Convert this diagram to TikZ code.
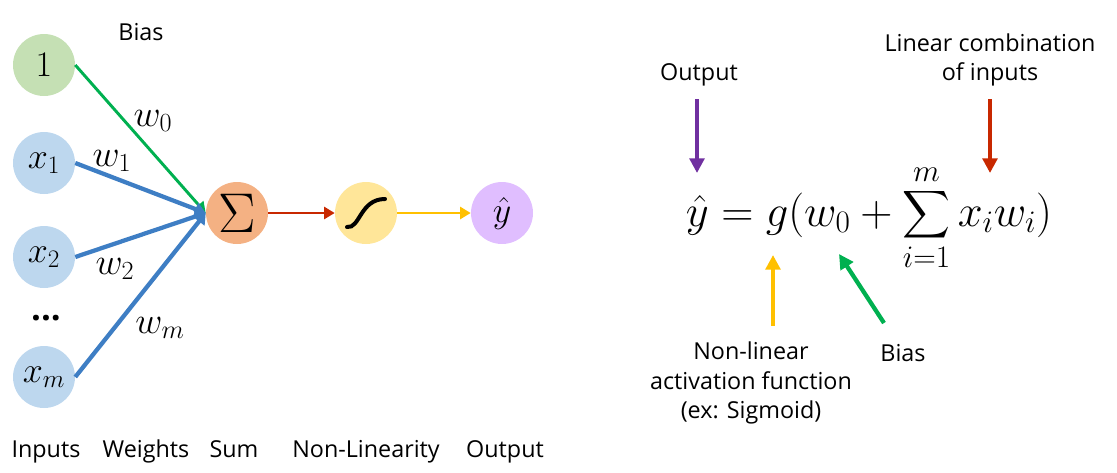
\RequirePackage{fix-cm}
\documentclass[tikz,border=0pt]{standalone}
\usepackage{amsmath}
\usepackage{fontspec}
\setmainfont{Open Sans}
\usetikzlibrary{arrows.meta}

\definecolor{biasgreen}{RGB}{197,224,180}
\definecolor{inblue}{RGB}{189,215,238}
\definecolor{sumorange}{RGB}{244,177,131}
\definecolor{sigyellow}{RGB}{255,230,153}
\definecolor{outpurple}{RGB}{224,190,255}
\definecolor{arrgreen}{RGB}{0,176,80}
\definecolor{arrblue}{RGB}{62,126,196}
\definecolor{arrred}{RGB}{200,40,0}
\definecolor{arryellow}{RGB}{255,192,0}
\definecolor{arrpurple}{RGB}{112,48,160}

\tikzset{
  neuron/.style={circle,minimum size=46.5pt,inner sep=0pt,font=\fontsize{27}{29}\selectfont},
  lbl/.style={font=\fontsize{17.5}{22}\selectfont,align=center},
  wlbl/.style={font=\fontsize{28}{30}\selectfont},
  thinarr/.style={line width=2.2pt,-{Triangle[width=9pt,length=8pt]}},
  thickarr/.style={line width=3.2pt,-{Triangle[width=10pt,length=8pt]}},
  fatarr/.style={line width=3.2pt,-{Triangle[width=11pt,length=11pt]}}
}

\begin{document}
\begin{tikzpicture}[x=0.75pt,y=0.75pt,yscale=-1,xscale=1]
\path[use as bounding box] (0,0) rectangle (1117,472);

%Shape: Circles (inputs)
\node[neuron,fill=biasgreen] (one) at (44,65) {$1$};
\node[neuron,fill=inblue] (x1) at (44,163) {$x_1$};
\node[neuron,fill=inblue] (x2) at (44,257) {$x_2$};
\node[font=\fontsize{26}{28}\selectfont\bfseries] (dots) at (46,318) {...};
\node[neuron,fill=inblue] (xm) at (44,377) {$x_m$};

%Shape: Circles (sum, activation, output)
\node[neuron,fill=sumorange,font=\fontsize{42}{44}\selectfont] (sum) at (237,213) {$\Sigma$};
\node[neuron,fill=sigyellow] (sig) at (366,213) {};
\node[neuron,fill=outpurple] (yhat) at (502,213) {$\hat{y}$};

%Sigmoid curve
\draw[line width=3pt,line cap=round,shift={(sig.center)}] (-19,14) .. controls (-6,16) and (-6,-14) .. (19,-14);

%Straight Lines
\draw[thinarr,arrgreen] (one.east) -- (sum.west);
\draw[thickarr,arrblue] (x1.east) -- (sum.west);
\draw[thickarr,arrblue] (x2.east) -- (sum.west);
\draw[thickarr,arrblue] (xm.east) -- (sum.west);
\draw[thinarr,arrred] (sum.east) -- (sig.west);
\draw[thinarr,arryellow] (sig.east) -- (yhat.west);

% Text Node
\node[lbl] (biastop) at (141,32) {Bias};
\node[wlbl] (w0) at (153,121) {$w_0$};
\node[wlbl] (w1) at (112,161) {$w_1$};
\node[wlbl] (w2) at (115,269) {$w_2$};
\node[wlbl] (wm) at (160,328) {$w_m$};

% Text Node
\node[lbl,anchor=base] (inputs) at (46,457) {Inputs};
\node[lbl,anchor=base] (weights) at (146,457) {Weights};
\node[lbl,anchor=base] (sumlbl) at (234,457) {Sum};
\node[lbl,anchor=base] (nonlin) at (366,457) {Non-Linearity};
\node[lbl,anchor=base] (output) at (505,457) {Output};

%Equation
\node[anchor=base,font=\fontsize{33.5}{36}\selectfont] (eq) at (869,226)
  {$\displaystyle \hat{y} = g(w_0 + \sum_{i=1}^{m} x_i w_i)$};

% Text Node
\node[lbl] (outlbl) at (699,75) {Output};
\node[lbl] (lincomb) at (990,60) {Linear combination\\of inputs};
\node[lbl] (actfn) at (751,383) {Non-linear\\activation function\\(ex: Sigmoid)};
\node[lbl] (biaseq) at (903,353) {Bias};

%Pointer arrows
\coordinate (outtop) at (697,99);
\coordinate (outtip) at (697,173);
\coordinate (lintop) at (990,99);
\coordinate (lintip) at (990,173);
\coordinate (acttail) at (773,326);
\coordinate (acttip) at (773,255);
\coordinate (biastail) at (884,323);
\coordinate (biastip) at (839,254);
\draw[fatarr,arrpurple] (outtop) -- (outtip);
\draw[fatarr,arrred] (lintop) -- (lintip);
\draw[fatarr,arryellow] (acttail) -- (acttip);
\draw[fatarr,arrgreen] (biastail) -- (biastip);

\end{tikzpicture}
\end{document}
